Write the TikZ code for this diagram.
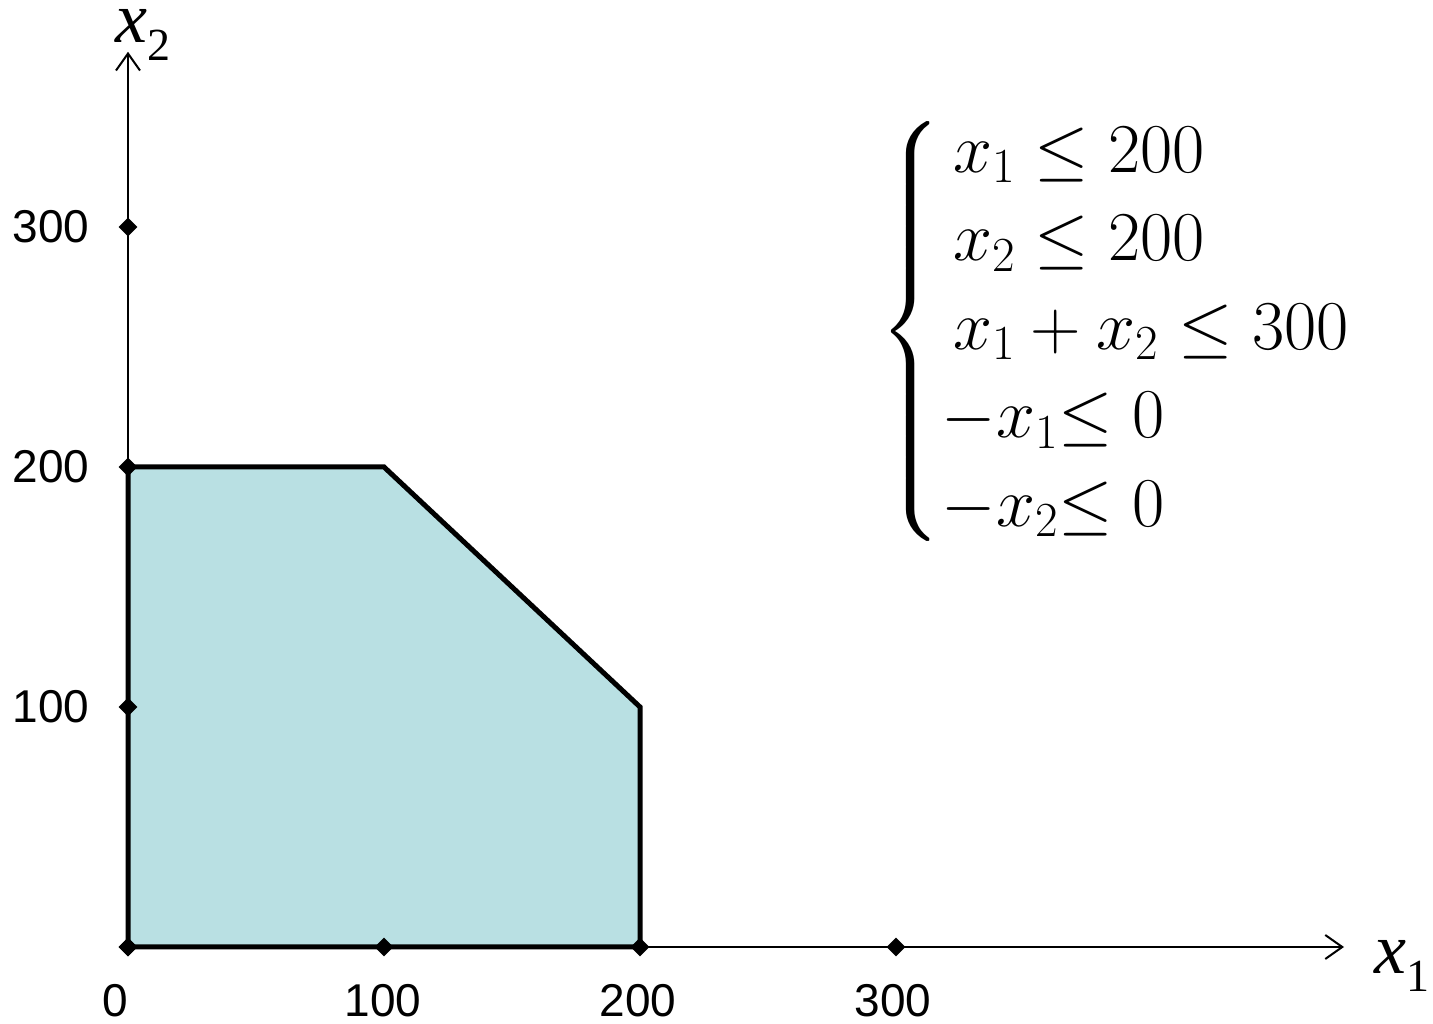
\RequirePackage{fix-cm}
\documentclass[tikz,border=0pt]{standalone}
\usepackage{amsmath,amssymb}
\usepackage{fontspec}
\newfontfamily\arialfont{Liberation Sans}
\newfontfamily\timesitfont{Liberation Serif Italic}
\newfontfamily\timesfont{Liberation Serif}
\usetikzlibrary{arrows.meta,shapes.geometric}
\definecolor{feasible}{HTML}{B9E0E3}
\tikzset{
  every picture/.style={line join=round, line cap=round, >={Straight Barb[length=17pt,width=24pt]}},
  axisline/.style={line width=2pt},
  region/.style={fill=feasible, draw=black, line width=5pt, line join=miter, line cap=rect},
  tickmark/.style={diamond, fill=black, inner sep=0pt, minimum size=19pt},
  ticklabel/.style={font=\fontsize{46}{50}\selectfont\arialfont, inner sep=0pt},
  varlabel/.style={inner sep=0pt, anchor=base west},
  system/.style={font=\fontsize{70}{88.5}\selectfont, inner sep=0pt, anchor=west},
}
\newcommand{\axisvar}[1]{{\timesitfont\fontsize{72}{80}\selectfont x}\raisebox{-18pt}{\timesfont\fontsize{46}{50}\selectfont #1}}

\begin{document}
\begin{tikzpicture}[x=1pt,y=1pt]
\useasboundingbox (0,0) rectangle (1433,1024);
\begin{scope}[shift={(128,77)},x=2.56pt,y=2.4pt]
% axes
\coordinate (O) at (0,0);
\coordinate (xend) at (475,0);
\coordinate (yend) at (0,373);
\draw[axisline,->] (O) -- (xend);
\draw[axisline,->] (O) -- (yend);
\node[varlabel] (xone) at (487,-11) {\axisvar{1}};
\node[varlabel] (xtwo) at (-5,377) {\axisvar{2}};
% feasible region
\coordinate (A) at (0,200);
\coordinate (B) at (100,200);
\coordinate (C) at (200,100);
\coordinate (D) at (200,0);
\draw[region] (O) -- (A) -- (B) -- (C) -- (D) -- cycle;
% ticks
\foreach \v in {0,100,200,300}{
  \node[tickmark] (tx\v) at (\v,0) {};
  \node[tickmark] (ty\v) at (0,\v) {};
}
\foreach \v/\dx in {0/-13,100/-1,200/-2,300/-3}
  \node[ticklabel] (lx\v) at ([xshift=\dx pt]\v,-22.5) {\v};
\foreach \v in {100,200,300}
  \node[ticklabel,anchor=east] (ly\v) at (-15,\v) {\v};
% constraints
\node[system] (cons) at (293.5,256.5) {\delimitershortfall=45pt
$\left\{\begin{array}{@{}l@{}}
  \,x_1 \le 200\\
  \,x_2 \le 200\\
  \,x_1 + x_2 \le 300\\
  -x_1{\le}\;0\\
  -x_2{\le}\;0
\end{array}\right.$};
\end{scope}
\end{tikzpicture}
\end{document}
